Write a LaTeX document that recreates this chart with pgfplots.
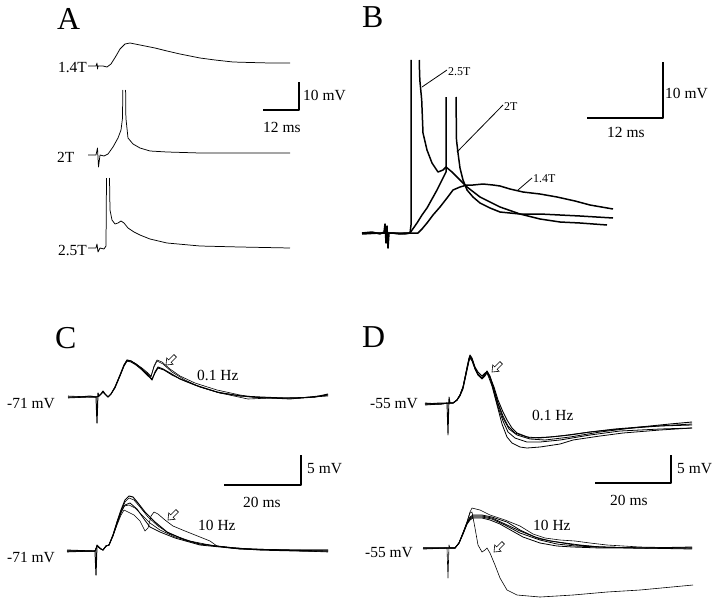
\documentclass[border=0pt]{standalone}
\usepackage{pgfplots}
\pgfplotsset{compat=1.18}
\usepackage{fontspec}
\setmainfont{Liberation Serif}

% traces are kept in image pixel units (x right, y down)
\newcommand{\lab}[3]{\node[anchor=base west,inner sep=0pt,font=\fontsize{15.5}{16}\selectfont] at (axis cs:#1,#2) {#3};}
\newcommand{\panel}[3]{\node[anchor=base west,inner sep=0pt,font=\fontsize{32}{32}\selectfont] at (axis cs:#1,#2) {#3};}
\newcommand{\openarrow}[2]{\draw[line width=0.6pt,fill=white,shift={(axis cs:#1,#2)},rotate=225]
  (0,0) -- (-5.5,4.5) -- (-5.5,1.8) -- (-13,1.8) -- (-13,-1.8) -- (-5.5,-1.8) -- (-5.5,-4.5) -- cycle;}

\begin{document}
\begin{tikzpicture}
\begin{axis}[
  scale only axis, width=720bp, height=605bp,
  xmin=0, xmax=720, ymin=0, ymax=605, y dir=reverse,
  hide axis, clip=false, unbounded coords=jump,
  every axis plot/.append style={black, line join=round}
]
\fill[white] (rel axis cs:0,0) rectangle (rel axis cs:1,1);

% ---------------- A ----------------
\addplot[line width=0.75pt] coordinates {(88,66)(96,66)(97,63)(97.5,69)(98,66)(103,66)(107,67)(111,64)(116,56)(120,49)(125,44)(130,43)(135,44)(145,46)(155,48)(167,51)(180,54)(190,56)(200,58)(215,60)(233,62)(250,62.5)(270,63)(290,63)};
\addplot[line width=0.75pt] coordinates {(88,155)(96,155)(97.5,148)(98.5,167)(100,155)(104,156)(108,154)(113,147)(118,138)(121,130)(122.5,118)(122.8,90)(124,nan)(125.6,90)(125.9,118)(128,138)(133,144)(140,148)(150,151)(167,152)(200,153)(240,153)(290,153)};
\addplot[line width=0.75pt] coordinates {(88,248)(96,248)(97,244)(98,252)(100,248)(104,249)(106,246)(106.5,178)(108,nan)(109.5,178)(110,210)(112,220)(115,224)(118,223)(121,221)(124,223)(128,228)(134,232)(140,235)(150,239)(167,243)(200,246)(240,247)(290,248)};
\addplot[line width=1.5pt] coordinates {(263,110)(299,110)(299,82)};
\panel{57}{30}{A}
\node[anchor=base east,inner sep=0pt,font=\fontsize{15.5}{16}\selectfont] at (axis cs:87,72) {1.4T};
\lab{57}{162}{2T}
\node[anchor=base east,inner sep=0pt,font=\fontsize{15.5}{16}\selectfont] at (axis cs:87,255) {2.5T};
\lab{303}{100}{10 mV}
\lab{263}{132}{12 ms}

% ---------------- B ----------------
% 2.5T
\addplot[line width=1.5pt] coordinates {(362,233)(372,232)(380,234)(384,232)(385,224)(386,243)(387,226)(388,248)(389,233)(392,233)(400,234)(405,233)(410,233)(411,225)(411,60)(415,nan)(419.3,60)(419.6,75)(420,82)(421.7,100)(423,133)(427,150)(432,163)(438,172)(443,170)(446,167)(452,172)(458,178)(467,187)(480,197)(500,207)(520,214)(540,219)(560,222)(580,223)(607,225)};
% 2T
\addplot[line width=1.5pt] coordinates {(362,234)(380,233)(392,233)(405,234)(410,233)(417,223)(422,215)(427,208)(432,199)(437,190)(441,182)(444,176)(446,172)(446,97)(451,nan)(456,97)(456.5,140)(458,153)(460,168)(463,180)(467,190)(473,197)(480,203)(490,208)(500,212)(520,214)(540,214)(560,215)(580,216)(613,218)};
% 1.4T
\addplot[line width=1.5pt] coordinates {(362,233)(392,233)(410,233)(418,233)(422,229)(427,223)(433,215)(440,207)(447,198)(453,190)(460,187)(467,185)(473,185)(483,184)(493,185)(500,186)(510,189)(523,192)(540,194)(557,197)(575,201)(590,205)(613,209)};
\addplot[line width=0.8pt] coordinates {(422,87)(447,70)};
\addplot[line width=0.8pt] coordinates {(457,152)(503,105)};
\addplot[line width=0.8pt] coordinates {(518,190)(532,178)};
\addplot[line width=1.5pt] coordinates {(587,118)(663,118)(663,62)};
\panel{362}{28}{B}
\node[anchor=base west,inner sep=0pt,font=\fontsize{12}{12}\selectfont] at (axis cs:448,75) {2.5T};
\node[anchor=base west,inner sep=0pt,font=\fontsize{12}{12}\selectfont] at (axis cs:504,110) {2T};
\node[anchor=base west,inner sep=0pt,font=\fontsize{12}{12}\selectfont] at (axis cs:533,182) {1.4T};
\lab{665}{98}{10 mV}
\lab{607}{137}{12 ms}

% ---------------- C ----------------
\addplot[line width=1.0pt] coordinates {(68,397)(80,397)(90,396)(96,397)(97,423)(98,393)(99,396)(101,394)(103,391)(105,394)(108,397)(111,394)(115,387)(120,375)(124,365)(127,360)(131,361)(136,364)(142,369)(148,375)(152,380)(155,372)(158,367)(163,369)(170,373)(180,379)(195,385)(217,392)(240,396)(260,397)(283,398)(300,398)(315,397)(328,394)};
\addplot[line width=0.6pt] coordinates {(68,398)(90,397)(96,397)(99,396)(103,392)(108,397)(111,394)(115,387)(120,375)(124,365)(127,360)(131,361)(136,364)(142,369)(148,374)(151,377)(154,366)(157,360)(162,362)(170,369)(180,376)(195,383)(217,390)(240,395)(260,398)(283,398)(315,397)(328,395)};
\addplot[line width=0.6pt] coordinates {(68,396)(90,397)(96,397)(99,396)(103,392)(108,397)(111,394)(115,387)(120,376)(124,366)(127,361)(131,361)(136,364)(142,368)(148,373)(151,376)(154,367)(157,361)(163,364)(172,372)(185,380)(200,387)(220,393)(248,399)(270,398)(300,398)(328,396)};
\addplot[line width=0.8pt] coordinates {(68,397)(96,397)(99,396)(103,392)(108,397)(111,394)(115,388)(120,376)(124,366)(127,361)(131,362)(136,365)(142,370)(148,376)(152,379)(155,373)(158,368)(164,370)(172,375)(185,381)(200,387)(220,393)(250,397)(290,399)(328,395)};
\addplot[line width=1.0pt] coordinates {(67,551)(85,551)(95,551)(96,575)(97,545)(99,547)(101,549)(103,550)(106,546)(109,545)(113,535)(117,522)(121,510)(125,500)(129,496)(133,497)(138,503)(145,512)(155,522)(167,532)(185,540)(200,544)(233,548)(260,550)(300,551)(328,551)};
\addplot[line width=0.6pt] coordinates {(67,551)(95,551)(97,546)(101,549)(103,550)(106,546)(109,545)(113,535)(117,522)(121,511)(125,502)(129,498)(134,500)(140,507)(148,517)(158,526)(170,534)(190,541)(215,546)(250,549)(300,550)(328,550)};
\addplot[line width=0.6pt] coordinates {(67,552)(95,551)(97,546)(101,549)(103,550)(106,546)(109,545)(113,536)(117,524)(121,513)(124,506)(129,505)(135,508)(142,515)(150,523)(160,530)(175,537)(200,544)(233,548)(280,550)(328,552)};
\addplot[line width=0.6pt] coordinates {(67,551)(95,551)(97,546)(101,549)(103,550)(106,546)(109,545)(113,536)(117,525)(121,515)(124,510)(128,512)(134,515)(140,521)(145,531)(148,528)(151,516)(154,512)(158,514)(165,520)(173,526)(185,531)(200,537)(210,541)(217,546)(240,549)(280,550)(328,550)};
\addplot[line width=0.8pt] coordinates {(67,550)(95,551)(97,546)(101,549)(103,550)(106,546)(109,545)(113,535)(117,523)(121,512)(125,505)(130,503)(137,509)(144,519)(150,527)(160,532)(175,538)(200,545)(240,549)(328,551)};
\addplot[line width=1.5pt] coordinates {(224,485)(301,485)(301,455)};
\openarrow{166}{365}
\openarrow{168}{520}
\panel{55}{348}{C}
\lab{7}{408}{-71 mV}
\lab{197}{380}{0.1 Hz}
\lab{307}{473}{5 mV}
\lab{243}{507}{20 ms}
\lab{7}{562}{-71 mV}
\lab{198}{530}{10 Hz}

% ---------------- D ----------------
\addplot[line width=0.9pt] coordinates {(425,404)(440,403)(447,403)(448,435)(449,397)(450,403)(453,403)(457,400)(460,395)(463,387)(466,372)(469,358)(470,355)(472,358)(475,367)(478,372)(482,376)(485,373)(487,372)(490,377)(494,387)(498,400)(503,412)(507,420)(512,428)(517,433)(530,438)(550,437)(570,435)(590,432)(615,429)(640,427)(670,424)(692,422)};
\addplot[line width=0.8pt] coordinates {(425,403)(440,404)(447,403)(450,403)(453,403)(457,400)(460,395)(463,387)(466,373)(469,359)(470,356)(472,359)(475,368)(478,374)(482,378)(485,374)(487,371)(490,376)(494,389)(498,403)(503,416)(508,426)(515,433)(527,437)(540,438)(560,436)(590,432)(620,429)(660,426)(692,425)};
\addplot[line width=0.8pt] coordinates {(425,405)(440,404)(450,403)(453,403)(457,400)(460,395)(463,388)(466,374)(469,360)(470,357)(472,360)(475,369)(478,375)(482,378)(485,375)(487,372)(490,378)(494,392)(498,407)(503,421)(508,432)(515,438)(527,442)(540,442)(560,440)(590,435)(620,431)(660,429)(692,428)};
\addplot[line width=0.8pt] coordinates {(425,404)(440,404)(450,403)(453,403)(457,400)(460,396)(463,389)(466,375)(469,361)(470,358)(472,361)(475,369)(478,375)(482,379)(485,376)(487,373)(489,378)(492,386)(497,405)(502,424)(507,437)(512,443)(520,447)(527,448)(540,447)(560,444)(573,440)(600,436)(623,433)(660,430)(692,428)};
\addplot[line width=0.8pt] coordinates {(425,404)(440,404)(450,403)(453,403)(457,400)(460,395)(463,387)(466,373)(469,359)(470,356)(472,359)(475,368)(478,374)(482,378)(485,374)(487,371)(490,377)(494,390)(498,404)(503,418)(509,429)(517,435)(530,439)(545,440)(570,437)(600,432)(640,427)(692,424)};
% 10 Hz bundle
\addplot[line width=0.6pt] coordinates {(423,548)(440,548)(447,548)(448,578)(449,545)(450,548)(455,548)(459,543)(463,533)(467,522)(470,512)(472,508)(480,510)(490,515)(505,520)(520,526)(533,534)(545,538)(560,540)(575,541)(590,543)(607,545)(640,547)(692,548)};
\addplot[line width=0.8pt] coordinates {(423,548)(447,548)(450,548)(455,548)(459,543)(463,533)(467,523)(470,517)(473,515)(482,515)(492,517)(507,522)(520,530)(535,537)(550,541)(565,543)(580,545)(600,547)(640,548)(692,548)};
\addplot[line width=0.8pt] coordinates {(423,549)(447,548)(450,548)(455,548)(459,543)(463,534)(467,524)(470,520)(473,518)(482,518)(490,520)(500,524)(507,528)(523,537)(540,543)(557,546)(573,547)(600,548)(692,548)};
\addplot[line width=0.8pt] coordinates {(423,548)(447,548)(450,548)(455,548)(459,543)(463,534)(467,524)(470,519)(473,517)(482,517)(492,519)(505,525)(520,533)(540,540)(557,544)(575,546)(600,547)(640,548)(692,547)};
\addplot[line width=0.8pt] coordinates {(423,548)(447,548)(450,548)(455,548)(459,543)(463,533)(467,523)(470,518)(473,516)(482,516)(492,518)(505,524)(520,531)(540,539)(557,542)(575,545)(600,547)(640,548)(692,549)};
\addplot[line width=0.6pt] coordinates {(450,548)(455,548)(459,543)(463,533)(467,522)(470,513)(472,512)(475,528)(478,545)(482,552)(485,550)(487,548)(490,553)(495,565)(500,578)(507,590)(517,595)(540,597)(573,595)(607,592)(640,590)(693,585)};
\addplot[line width=1.5pt] coordinates {(595,483)(671,483)(671,455)};
\openarrow{492}{372}
\openarrow{494}{552}
\panel{362}{347}{D}
\lab{370}{408}{-55 mV}
\lab{532}{420}{0.1 Hz}
\lab{677}{473}{5 mV}
\lab{610}{505}{20 ms}
\lab{365}{557}{-55 mV}
\lab{533}{530}{10 Hz}

\path (rel axis cs:0,0) rectangle (rel axis cs:1,1);
\end{axis}
\end{tikzpicture}
\end{document}
